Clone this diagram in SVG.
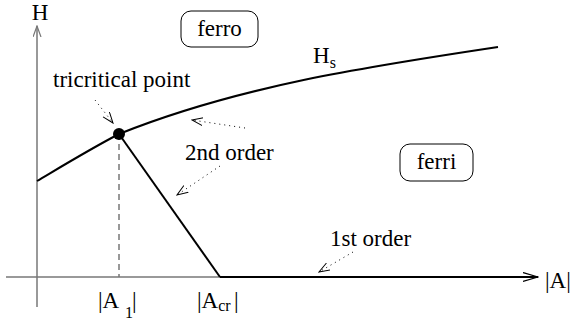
<svg xmlns="http://www.w3.org/2000/svg" width="575" height="323" viewBox="0 0 575 323">
<defs>
<style>
text{font-size:23px;fill:#000}
.sub{font-size:16px}
.axis{stroke:#777;stroke-width:1.5;fill:none}
.curve{stroke:#000;stroke-width:2;fill:none}
.dot{stroke:#000;stroke-width:1;stroke-dasharray:1 4;fill:none}
.box{fill:#fff;stroke:#000;stroke-width:1}
</style>
<marker id="ah" markerWidth="12" markerHeight="10" refX="11" refY="4.5" orient="auto" markerUnits="userSpaceOnUse">
<path d="M0,0.5 L11,4.5 L0,8.5" fill="none" stroke="#000" stroke-width="1"/>
</marker>
<marker id="ahg" markerWidth="12" markerHeight="10" refX="11" refY="4.5" orient="auto" markerUnits="userSpaceOnUse">
<path d="M0,0.5 L11,4.5 L0,8.5" fill="none" stroke="#777" stroke-width="1.2"/>
</marker>
<marker id="ahb" markerWidth="16" markerHeight="12" refX="15" refY="5" orient="auto" markerUnits="userSpaceOnUse">
<path d="M0,0.5 L15,5 L0,9.5" fill="none" stroke="#000" stroke-width="1.2"/>
</marker>
</defs>
<g id="connectors">
<line class="axis" x1="37" y1="307" x2="37" y2="26" marker-end="url(#ahg)"/>
<line class="axis" x1="6" y1="277" x2="220" y2="277"/>
<line x1="119" y1="134" x2="119" y2="277" stroke="#777" stroke-width="1.5" stroke-dasharray="6 4"/>
<path class="curve" d="M37,181 C64,165 92,148 119,134 C239,86 368,66.5 498,47"/>
<line class="curve" x1="119" y1="134" x2="220" y2="277"/>
<line x1="220" y1="277" x2="538" y2="277" stroke="#000" stroke-width="2.2" marker-end="url(#ahb)"/>
<line class="dot" x1="95" y1="100" x2="113" y2="123" marker-end="url(#ah)"/>
<line class="dot" x1="245" y1="128" x2="192" y2="120" marker-end="url(#ah)"/>
<line class="dot" x1="220" y1="166" x2="177" y2="195" marker-end="url(#ah)"/>
<line class="dot" x1="353" y1="252" x2="319" y2="272" marker-end="url(#ah)"/>
</g>
<g font-family="Liberation Serif, Times New Roman, DejaVu Serif, serif">
<g id="tricritical">
<circle cx="119" cy="134" r="6" fill="#000"/>
<text x="53" y="87">tricritical point</text>
</g>
<g id="ferro">
<rect class="box" x="181" y="11" width="77" height="36" rx="10"/>
<text x="219.5" y="36" text-anchor="middle">ferro</text>
</g>
<g id="ferri">
<rect class="box" x="400" y="144" width="73" height="37" rx="10"/>
<text x="436.5" y="169" text-anchor="middle">ferri</text>
</g>
<g id="labels">
<text x="40" y="20" text-anchor="middle">H</text>
<text x="313" y="63">H<tspan class="sub" dy="5">s</tspan></text>
<text x="185" y="160">2nd order</text>
<text x="330" y="246">1st order</text>
<text x="545" y="288">|A|</text>
<text x="98" y="308">|A<tspan class="sub" x="125" dy="10">1</tspan><tspan x="132" dy="-10">|</tspan></text>
<text x="197" y="308">|A<tspan class="sub" dy="3">cr</tspan><tspan x="234" dy="-3">|</tspan></text>
</g>
</g>
</svg>
